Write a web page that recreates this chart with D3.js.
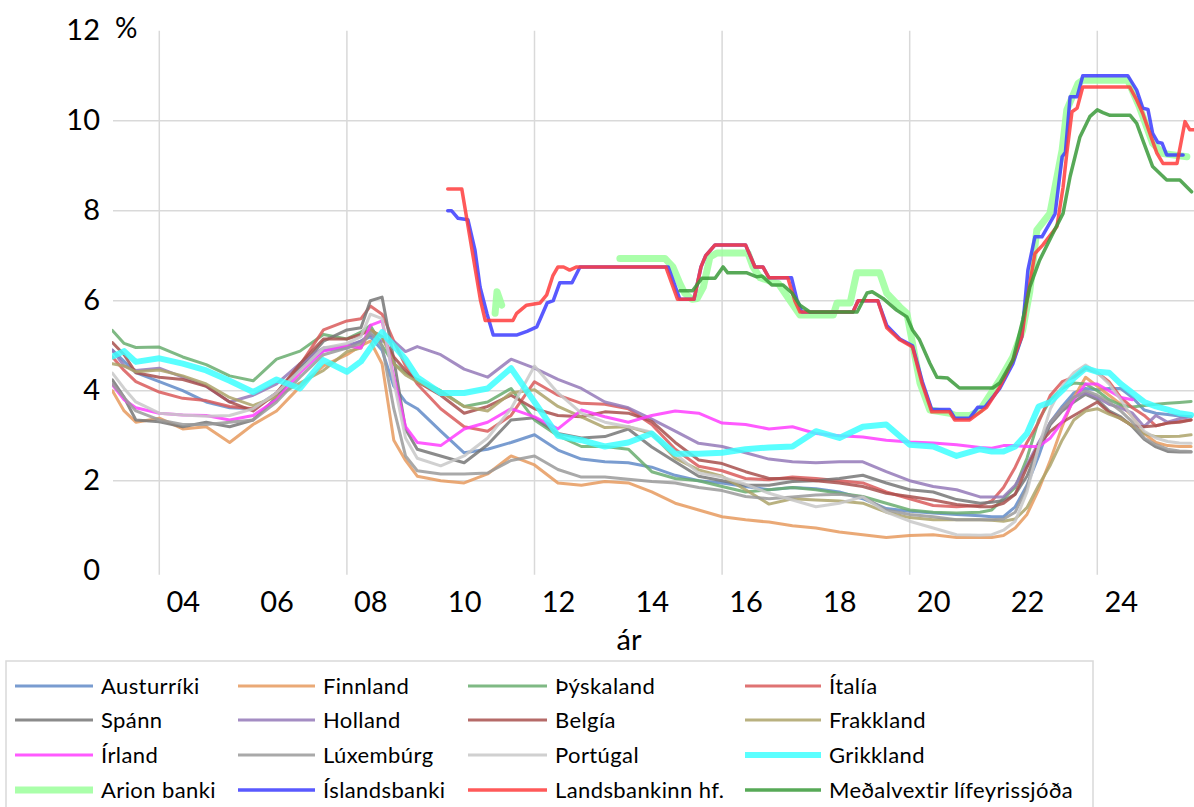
<!DOCTYPE html>
<html><head><meta charset="utf-8">
<script src="https://cdn.jsdelivr.net/npm/d3@7"></script>
<style>
body{margin:0;background:#fff;}
svg{display:block;}
text{font-family:Lato,"Open Sans",sans-serif;fill:#000;}
</style>
</head><body>
<svg id="chart" width="1194" height="807"></svg>
<script>
// ---------- DATA ----------
const countryDates = [2003.0,2003.25,2003.5,2004.0,2004.5,2005.0,2005.5,2006.0,2006.5,2007.0,
  2007.5,2008.0,2008.3,2008.5,2008.75,2009.0,2009.25,2009.5,2010.0,2010.5,
  2011.0,2011.5,2012.0,2012.5,2013.0,2013.5,2014.0,2014.5,2015.0,2015.5,
  2016.0,2016.5,2017.0,2017.5,2018.0,2018.5,2019.0,2019.5,2020.0,2020.5,
  2021.0,2021.5,2021.75,2022.0,2022.25,2022.5,2022.75,2023.0,2023.25,2023.5,
  2023.75,2024.0,2024.25,2024.5,2024.75,2025.0,2025.25,2025.5,2025.75,2026.0];

const austurriki = [4.9,4.65,4.4,4.2,4.0,3.75,3.62,3.6,3.95,4.5,4.9,4.95,5.1,5.2,4.9,4.1,3.75,3.6,3.1,2.62,2.7,2.85,3.02,2.68,2.48,2.42,2.4,2.3,2.12,2.0,1.95,1.87,1.8,1.85,1.82,1.75,1.6,1.38,1.32,1.28,1.25,1.22,1.2,1.2,1.42,1.9,2.55,3.3,3.65,3.95,4.05,4.02,4.05,4.05,3.85,3.57,3.5,3.47,3.44,3.42];
const finnland = [4.0,3.55,3.3,3.39,3.15,3.2,2.85,3.25,3.55,4.09,4.55,4.8,5.0,5.1,4.6,2.9,2.45,2.1,2.0,1.95,2.15,2.55,2.35,1.95,1.9,1.98,1.95,1.75,1.5,1.35,1.2,1.13,1.08,1.0,0.95,0.86,0.8,0.74,0.78,0.8,0.74,0.74,0.74,0.78,0.95,1.25,1.8,2.46,3.2,3.85,4.3,4.1,3.9,3.7,3.42,3.05,2.85,2.78,2.76,2.76];
const thyskaland = [5.34,5.05,4.96,4.97,4.75,4.58,4.33,4.22,4.7,4.88,5.25,5.15,5.3,5.45,5.0,4.6,4.4,4.25,4.0,3.65,3.75,4.05,3.35,3.0,2.76,2.76,2.7,2.2,2.05,2.0,1.87,1.75,1.8,1.85,1.8,1.72,1.65,1.5,1.35,1.3,1.28,1.3,1.35,1.6,1.85,2.5,3.35,3.8,4.05,4.17,4.15,4.0,3.8,3.68,3.64,3.67,3.7,3.72,3.74,3.76];
const italia = [4.75,4.45,4.2,3.97,3.83,3.78,3.65,3.6,3.92,4.57,5.35,5.55,5.6,5.88,5.7,5.1,4.55,4.15,3.6,3.2,3.1,3.45,4.2,3.9,3.72,3.7,3.6,3.25,2.7,2.32,2.22,2.05,2.02,2.08,2.05,2.0,1.95,1.75,1.6,1.45,1.42,1.45,1.55,1.85,2.3,2.85,3.3,3.9,4.2,4.3,4.5,4.4,4.2,3.85,3.62,3.45,3.22,3.28,3.32,3.35];
const spann = [4.24,3.85,3.35,3.31,3.2,3.3,3.2,3.35,3.85,4.5,5.1,5.35,5.4,6.0,6.08,4.7,3.15,2.7,2.55,2.4,2.8,3.35,3.4,3.05,2.95,2.98,3.15,2.75,2.42,2.1,2.0,1.9,1.9,1.98,2.0,2.05,2.12,1.95,1.8,1.75,1.58,1.5,1.52,1.56,1.7,2.1,2.75,3.25,3.55,3.75,3.92,3.8,3.55,3.42,3.2,2.92,2.75,2.65,2.64,2.64];
const holland = [4.9,4.55,4.45,4.5,4.3,4.1,3.75,3.9,4.15,4.6,4.95,5.0,5.1,5.25,5.1,5.1,4.87,4.98,4.8,4.48,4.3,4.7,4.5,4.25,4.05,3.75,3.62,3.37,3.1,2.83,2.76,2.62,2.48,2.42,2.4,2.42,2.42,2.2,2.0,1.87,1.8,1.64,1.64,1.64,1.9,2.35,2.85,3.3,3.6,3.85,3.95,3.85,3.7,3.62,3.5,3.2,3.45,3.3,3.38,3.42];
const belgia = [5.07,4.8,4.4,4.3,4.25,4.1,3.75,3.55,3.95,4.6,5.15,5.15,5.25,5.35,5.2,4.75,4.45,4.2,3.9,3.5,3.65,3.9,3.6,3.45,3.42,3.53,3.5,3.32,2.85,2.46,2.38,2.2,2.05,2.05,2.0,1.95,1.87,1.72,1.65,1.57,1.47,1.42,1.42,1.5,1.7,2.3,2.8,3.1,3.3,3.45,3.6,3.75,3.52,3.38,3.22,3.2,3.22,3.28,3.3,3.35];
const frakkland = [4.6,4.55,4.42,4.46,4.33,4.15,3.85,3.67,3.87,4.17,4.45,4.87,4.95,5.35,5.2,4.6,4.35,4.2,3.97,3.65,3.55,3.95,4.02,3.65,3.42,3.18,3.2,3.05,2.5,2.24,2.1,1.8,1.48,1.6,1.57,1.55,1.5,1.3,1.18,1.13,1.13,1.13,1.12,1.1,1.15,1.4,1.9,2.35,2.9,3.35,3.55,3.6,3.48,3.38,3.22,3.05,2.98,2.98,2.99,3.02];
const irland = [4.13,3.8,3.62,3.5,3.46,3.45,3.35,3.45,3.8,4.4,4.88,5.0,4.95,5.45,5.55,4.3,3.2,2.85,2.78,3.15,3.3,3.6,3.42,3.15,3.57,3.42,3.3,3.45,3.55,3.5,3.28,3.25,3.15,3.2,3.05,3.0,2.97,2.9,2.86,2.84,2.8,2.74,2.72,2.78,2.78,2.76,2.76,2.95,3.3,3.8,4.15,4.15,4.0,3.85,3.8,null,null,null,null,null];
const luxemburg = [4.15,3.85,3.55,3.35,3.25,3.25,3.3,3.35,3.75,4.3,4.8,4.95,5.05,5.3,5.0,3.6,2.55,2.22,2.15,2.15,2.17,2.45,2.55,2.25,2.08,2.08,2.03,1.98,1.95,1.85,1.78,1.65,1.6,1.64,1.68,1.7,1.64,1.35,1.25,1.2,1.13,1.13,1.13,1.15,1.3,1.85,2.75,3.3,3.6,3.85,4.0,3.9,3.75,3.55,3.3,2.95,2.8,2.7,2.66,2.65];
const portugal = [4.39,4.05,3.75,3.5,3.46,3.43,3.45,3.6,3.95,4.45,4.95,5.05,5.2,5.7,5.6,4.2,2.95,2.5,2.33,2.55,2.95,3.6,4.55,3.95,3.5,3.3,3.2,3.08,2.6,2.17,2.08,1.92,1.72,1.57,1.42,1.5,1.64,1.3,1.1,0.95,0.8,0.79,0.8,0.9,1.1,1.75,2.75,3.6,4.1,4.4,4.57,4.4,4.15,3.8,3.4,3.1,2.95,2.87,2.84,2.83];
const grikkland = [4.76,4.88,4.64,4.72,4.6,4.45,4.22,3.97,4.25,4.05,4.68,4.42,4.65,4.95,5.3,5.0,4.7,4.3,3.95,3.95,4.05,4.5,3.75,3.0,2.9,2.76,2.85,3.05,2.6,2.6,2.62,2.7,2.74,2.76,3.1,2.95,3.2,3.25,2.8,2.76,2.55,2.7,2.65,2.65,2.76,3.05,3.65,3.75,4.0,4.28,4.5,4.42,4.4,4.15,3.95,3.75,3.65,3.58,3.5,3.46];

const arionBanki = [[2011.16,5.72],[2011.2,6.2],[2011.3,5.9],[2011.4,null],[2013.82,6.94],[2014.78,6.94],[2014.95,6.75],[2015.1,6.38],[2015.2,6.17],[2015.36,6.03],[2015.47,6.05],[2015.6,6.3],[2015.74,6.97],[2015.89,7.06],[2016.55,7.06],[2016.66,6.75],[2016.81,6.51],[2017.2,6.38],[2017.45,6.0],[2017.66,5.68],[2018.37,5.68],[2018.45,5.95],[2018.73,5.95],[2018.87,6.62],[2019.36,6.62],[2019.51,6.17],[2019.79,5.86],[2019.94,5.72],[2020.22,4.17],[2020.43,3.57],[2020.86,3.5],[2020.97,3.45],[2021.29,3.45],[2021.5,3.57],[2021.92,4.24],[2022.2,4.75],[2022.41,5.35],[2022.56,6.2],[2022.71,7.57],[2022.99,7.94],[2023.25,9.35],[2023.35,10.24],[2023.59,10.83],[2023.69,10.9],[2024.65,10.9],[2024.9,10.3],[2025.18,9.5],[2025.4,9.27],[2025.91,9.2]];
const islandsbanki = [[2010.15,8.0],[2010.23,8.0],[2010.37,7.83],[2010.58,7.8],[2010.73,7.13],[2010.84,6.3],[2010.99,5.7],[2011.12,5.24],[2011.63,5.24],[2011.84,5.32],[2012.05,5.42],[2012.27,5.95],[2012.4,6.0],[2012.54,6.4],[2012.8,6.4],[2012.97,6.75],[2014.85,6.75],[2015.1,6.03],[2015.4,6.03],[2015.55,6.75],[2015.65,7.0],[2015.85,7.24],[2016.5,7.24],[2016.7,6.75],[2016.87,6.75],[2017.0,6.51],[2017.48,6.51],[2017.6,6.0],[2017.7,5.75],[2018.79,5.75],[2018.9,6.0],[2019.32,6.0],[2019.51,5.45],[2019.79,5.15],[2020.06,5.0],[2020.27,4.2],[2020.47,3.58],[2020.85,3.58],[2020.96,3.39],[2021.28,3.39],[2021.45,3.63],[2021.6,3.63],[2021.92,4.05],[2022.2,4.6],[2022.39,5.2],[2022.52,6.68],[2022.67,7.42],[2022.82,7.42],[2023.1,7.93],[2023.25,9.2],[2023.32,9.3],[2023.42,10.53],[2023.57,10.53],[2023.69,11.0],[2024.65,11.0],[2024.84,10.68],[2024.97,10.28],[2025.08,10.25],[2025.18,9.72],[2025.29,9.52],[2025.38,9.5],[2025.48,9.24],[2025.83,9.24]];
const landsbankinn = [[2010.15,8.48],[2010.45,8.48],[2010.85,6.0],[2010.95,5.56],[2011.54,5.56],[2011.62,5.72],[2011.83,5.9],[2012.12,5.95],[2012.26,6.13],[2012.39,6.55],[2012.5,6.75],[2012.62,6.75],[2012.75,6.68],[2012.9,6.75],[2014.8,6.75],[2015.05,6.03],[2015.4,6.03],[2015.55,6.75],[2015.65,7.0],[2015.85,7.24],[2016.5,7.24],[2016.7,6.75],[2016.87,6.75],[2017.0,6.51],[2017.4,6.51],[2017.55,6.0],[2017.66,5.75],[2018.79,5.75],[2018.9,6.0],[2019.32,6.0],[2019.51,5.4],[2019.79,5.13],[2020.06,4.97],[2020.26,4.17],[2020.47,3.53],[2020.85,3.53],[2020.96,3.35],[2021.28,3.35],[2021.64,3.63],[2021.92,4.08],[2022.2,4.68],[2022.39,5.2],[2022.5,6.0],[2022.67,7.05],[2022.84,7.24],[2023.14,7.65],[2023.27,8.52],[2023.35,9.28],[2023.46,10.2],[2023.57,10.28],[2023.69,10.75],[2024.69,10.75],[2024.84,10.46],[2024.97,10.16],[2025.12,9.72],[2025.27,9.28],[2025.4,9.05],[2025.7,9.05],[2025.87,9.98],[2025.97,9.8],[2026.05,9.8]];
const medalvextir = [[2015.1,6.22],[2015.37,6.22],[2015.57,6.5],[2015.85,6.5],[2016.02,6.75],[2016.12,6.62],[2016.53,6.62],[2016.74,6.53],[2016.85,6.55],[2017.06,6.35],[2017.3,6.35],[2017.49,6.17],[2017.66,5.9],[2017.87,5.75],[2018.88,5.75],[2019.09,6.17],[2019.2,6.2],[2019.43,6.05],[2019.72,5.79],[2019.94,5.64],[2020.06,5.35],[2020.21,5.13],[2020.43,4.61],[2020.58,4.3],[2020.81,4.28],[2021.06,4.06],[2021.77,4.06],[2021.92,4.17],[2022.2,4.68],[2022.41,5.57],[2022.56,6.3],[2022.77,6.9],[2023.05,7.49],[2023.27,7.94],[2023.42,8.76],[2023.63,9.64],[2023.84,10.09],[2024.0,10.24],[2024.12,10.18],[2024.27,10.12],[2024.7,10.12],[2024.84,9.94],[2024.97,9.57],[2025.18,8.98],[2025.48,8.68],[2025.76,8.68],[2026.01,8.42]];

const yTicks = [0,2,4,6,8,10,12];
const xTickYears = [2004,2006,2008,2010,2012,2014,2016,2018,2020,2022,2024];
const gridYears = [2004,2008,2012,2016,2020,2024];
const gridValues = [2,4,6,8,10];
const yUnit = "%";
const xTitle = "ár";

// ---------- SERIES DEFINITIONS ----------
function pairs(vals){ return countryDates.map((d,i)=>[d, vals[i]]); }
const series = [
  {name:"Austurríki", data:pairs(austurriki), color:"#628BC8", w:3},
  {name:"Finnland", data:pairs(finnland), color:"#E69A5E", w:3},
  {name:"Þýskaland", data:pairs(thyskaland), color:"#69AD6E", w:3},
  {name:"Ítalía", data:pairs(italia), color:"#D95B5B", w:3},
  {name:"Spánn", data:pairs(spann), color:"#777777", w:3},
  {name:"Holland", data:pairs(holland), color:"#9479B8", w:3},
  {name:"Belgía", data:pairs(belgia), color:"#A8504E", w:3},
  {name:"Frakkland", data:pairs(frakkland), color:"#ADA36A", w:3},
  {name:"Írland", data:pairs(irland), color:"#FF3DFF", w:3},
  {name:"Lúxembúrg", data:pairs(luxemburg), color:"#9A9A9A", w:3},
  {name:"Portúgal", data:pairs(portugal), color:"#C8C8C8", w:3},
  {name:"Grikkland", data:pairs(grikkland), color:"#3DFFFF", w:6},
  {name:"Arion banki", data:arionBanki, color:"#9BFF9B", w:7},
  {name:"Íslandsbanki", data:islandsbanki, color:"#3C3CFF", w:3.5},
  {name:"Landsbankinn hf.", data:landsbankinn, color:"#FF3C3C", w:3.5},
  {name:"Meðalvextir lífeyrissjóða", data:medalvextir, color:"#3A9A3A", w:3.5}
];

// ---------- CHART ----------
const svg = d3.select("#chart");
const x = d3.scaleLinear().domain([2003, 2026]).range([112.4, 1191.1]);
const y = d3.scaleLinear().domain([0, 12]).range([570.7, 30.7]);
const FONT = 'Lato, "Open Sans", sans-serif';

svg.append("defs").append("clipPath").attr("id","plotclip")
  .append("rect").attr("x",112).attr("y",0).attr("width",1194-112).attr("height",600);

// gridlines
svg.append("g").selectAll("line").data(gridValues).join("line")
  .attr("x1",113).attr("x2",1194).attr("y1",d=>y(d)).attr("y2",d=>y(d))
  .attr("stroke","#D9D9D9").attr("stroke-width",1.5);
svg.append("g").selectAll("line").data(gridYears).join("line")
  .attr("x1",d=>x(d)).attr("x2",d=>x(d)).attr("y1",y(12)).attr("y2",y(0)+4)
  .attr("stroke","#D9D9D9").attr("stroke-width",1.5);

// y axis
const yAxis = svg.append("g").attr("transform","translate(103,0)")
  .call(d3.axisLeft(y).tickValues(yTicks).tickSize(0).tickPadding(3).tickFormat(d3.format("d")));
yAxis.select(".domain").remove();
yAxis.attr("font-family",FONT).attr("font-size",29);
yAxis.selectAll("text").attr("fill","#000");

svg.append("text").attr("x",115).attr("y",38).attr("font-size",28).attr("font-family",FONT).text(yUnit);

// x axis
const xAxis = svg.append("g").attr("transform","translate(0,580)")
  .call(d3.axisBottom(x).tickValues(xTickYears.map(d=>d+0.5)).tickSize(0).tickPadding(11)
    .tickFormat(d=>String(Math.floor(d)%100).padStart(2,"0")));
xAxis.select(".domain").remove();
xAxis.attr("font-family",FONT).attr("font-size",29);
xAxis.selectAll("text").attr("fill","#000");

svg.append("text").attr("x",629).attr("y",650).attr("text-anchor","middle")
  .attr("font-size",29).attr("font-family",FONT).text(xTitle);

// lines
const line = d3.line().defined(d=>d[1]!=null).x(d=>x(d[0])).y(d=>y(d[1]));
const lg = svg.append("g").attr("clip-path","url(#plotclip)");
lg.selectAll("path").data(series).join("path")
  .attr("d",d=>line(d.data)).attr("fill","none")
  .attr("stroke",d=>d.color).attr("stroke-width",d=>d.w)
  .attr("stroke-opacity",0.85).attr("stroke-linejoin","round").attr("stroke-linecap","round");

// legend
svg.append("rect").attr("x",6).attr("y",661).attr("width",1087).attr("height",170)
  .attr("fill","none").attr("stroke","#D9D9D9").attr("stroke-width",1.5);
const colLineX = [15,238,468,745];
const colTextX = [101,323,555,829];
const rowY = [686,720,755,790];
const leg = svg.append("g").selectAll("g").data(series).join("g")
  .attr("transform",(d,i)=>`translate(0,${rowY[Math.floor(i/4)]})`);
leg.append("line").attr("x1",(d,i)=>colLineX[i%4]).attr("x2",(d,i)=>colTextX[i%4]-8)
  .attr("y1",0).attr("y2",0).attr("stroke",d=>d.color).attr("stroke-opacity",0.85)
  .attr("stroke-width",d=>d.w);
leg.append("text").attr("x",(d,i)=>colTextX[i%4]).attr("y",0).attr("dy","0.36em")
  .attr("font-size",22).attr("letter-spacing","0.4px").attr("font-family",FONT).text(d=>d.name);
</script>
</body></html>
